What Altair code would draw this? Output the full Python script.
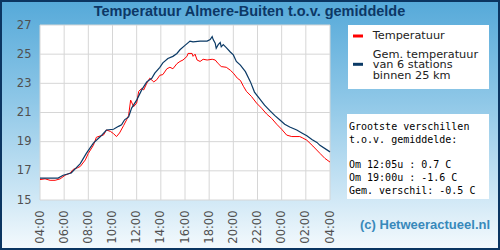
import altair as alt
import pandas as pd

# ---------------- data ----------------
red_times = ["04:00", "04:25", "04:50", "05:15", "05:40", "06:05", "06:30", "06:45", "07:05", "07:20",
             "07:45", "08:00", "08:25", "08:40", "09:00", "09:15", "09:30", "09:50", "10:05", "10:20",
             "10:35", "10:55", "11:10", "11:20", "11:30", "11:45", "12:00", "12:10", "12:25", "12:35",
             "12:50", "13:05", "13:25", "13:40", "13:55", "14:10", "14:30", "14:45", "15:00", "15:20",
             "15:35", "15:50", "16:10", "16:15", "16:35", "16:40", "16:50", "17:00", "17:15", "17:30",
             "17:50", "18:15", "18:30", "18:45", "19:00", "19:25", "19:45", "20:00", "20:20", "20:35",
             "20:50", "21:05", "21:30", "21:55", "22:20", "22:45", "23:10", "23:35", "00:00", "00:25",
             "00:50", "01:30", "01:45", "02:05", "02:35", "03:10", "03:35", "04:00"]
red_values = [16.4, 16.45, 16.35, 16.35, 16.45, 16.7, 16.85, 17.1, 17.2, 17.3,
              17.75, 18.2, 18.75, 19.3, 19.4, 19.45, 19.8, 19.7, 19.55, 19.35,
              19.6, 20.1, 20.5, 20.8, 21.85, 21.4, 21.65, 22.45, 22.65, 22.55,
              23.0, 23.35, 23.1, 23.25, 23.55, 23.6, 24.0, 24.1, 24.0, 24.35,
              24.5, 24.6, 24.85, 25.05, 25.05, 24.85, 25.0, 24.6, 24.5, 24.65,
              24.6, 24.65, 24.6, 24.35, 24.15, 24.1, 23.9, 23.7, 23.35, 23.2,
              22.8, 22.45, 22.1, 21.65, 21.3, 20.9, 20.6, 20.2, 19.85, 19.45,
              19.35, 19.35, 19.25, 19.1, 18.7, 18.2, 17.85, 17.6]

blue_times = ["04:00", "05:30", "05:55", "06:35", "07:20", "07:50", "08:25", "09:00", "09:30", "10:05",
              "10:30", "10:45", "11:00", "11:20", "11:35", "12:00", "12:25", "12:50", "13:15", "13:30",
              "13:55", "14:10", "14:35", "15:00", "15:20", "15:35", "16:00", "16:25", "16:40", "17:15",
              "17:50", "18:05", "18:15", "18:20", "18:30", "18:35", "18:45", "18:55", "19:00", "19:10",
              "19:25", "19:45", "20:00", "20:15", "20:35", "21:00", "21:25", "21:45", "22:10", "22:35",
              "23:00", "23:25", "23:50", "00:15", "00:40", "01:15", "01:40", "02:05", "02:30", "02:55",
              "03:10", "04:00"]
blue_values = [16.5, 16.5, 16.7, 16.85, 17.5, 18.2, 18.9, 19.35, 19.8, 19.85,
               20.05, 20.15, 20.5, 20.7, 21.3, 21.85, 22.55, 23.1, 23.35, 23.7,
               24.1, 24.4, 24.7, 24.85, 25.05, 25.3, 25.6, 25.9, 25.85, 25.9,
               25.9, 26.0, 26.2, 26.0, 25.75, 25.4, 25.65, 25.8, 25.5, 25.65,
               25.45, 25.15, 24.95, 24.5, 24.25, 23.8, 23.1, 22.4, 21.95, 21.5,
               21.15, 20.8, 20.5, 20.2, 20.0, 19.8, 19.6, 19.4, 19.15, 18.95,
               18.75, 18.3]

x_tick_times = ["04:00", "06:00", "08:00", "10:00", "12:00", "14:00", "16:00",
                "18:00", "20:00", "22:00", "00:00", "02:00", "04:00"]
y_ticks = [15, 17, 19, 21, 23, 25, 27]

title_text = "Temperatuur Almere-Buiten t.o.v. gemiddelde"
legend_red = "Temperatuur"
legend_blue = ["Gem. temperatuur", "van 6 stations", "binnen 25 km"]
info_lines = ["Grootste verschillen", "t.o.v. gemiddelde:", "",
              "Om 12:05u : 0.7 C", "Om 19:00u : -1.6 C", "Gem. verschil: -0.5 C"]
footer_text = "(c) Hetweeractueel.nl"


def to_stamps(times):
    out, day, prev = [], 10, None
    for t in times:
        h, m = map(int, t.split(":"))
        mins = h * 60 + m
        if prev is not None and mins < prev:
            day = 11
        prev = mins
        out.append(f"2024-07-{day:02d}T{t}:00")
    return out


red_df = pd.DataFrame({"t": to_stamps(red_times), "v": red_values})
blue_df = pd.DataFrame({"t": to_stamps(blue_times), "v": blue_values})
xt_df = pd.DataFrame({"t": to_stamps(x_tick_times)})
yt_df = pd.DataFrame({"v": y_ticks})
one = pd.DataFrame({"a": [0]})

W, H = 290, 175
LABEL_GRAY = "#505050"

x_tick_values = [alt.DateTime(year=2024, month=7, date=int(s[8:10]), hours=int(s[11:13]), minutes=0)
                 for s in xt_df["t"]]

x_scale = alt.Scale(domain=[alt.DateTime(year=2024, month=7, date=10, hours=4),
                            alt.DateTime(year=2024, month=7, date=11, hours=4)])
x_axis = alt.Axis(values=x_tick_values, format="%H:%M", labelAngle=270,
                  grid=False, ticks=False, domain=False, labelPadding=10,
                  labelFontSize=11.5, labelColor=LABEL_GRAY, labelFont="DejaVu Sans",
                  labelFlush=False, labelOverlap=False, title=None, zindex=1)
y_scale = alt.Scale(domain=[15, 27], nice=False, zero=False)
y_axis = alt.Axis(values=y_ticks, grid=False, ticks=False, domain=False,
                  labelPadding=9, labelFontSize=11.5, labelColor=LABEL_GRAY,
                  labelFont="DejaVu Sans", labelOverlap=False, title=None, zindex=1)


def xe():
    return alt.X("t:T", scale=x_scale, axis=x_axis)


def ye():
    return alt.Y("v:Q", scale=y_scale, axis=y_axis)


bg = alt.Chart(one).mark_rect(
    color=alt.LinearGradient(gradient="linear", x1=0, x2=0, y1=0, y2=1,
                             stops=[alt.GradientStop(color="#55a9d9", offset=0),
                                    alt.GradientStop(color="#8ec7e7", offset=0.4),
                                    alt.GradientStop(color="#c8e4f4", offset=0.75),
                                    alt.GradientStop(color="#f5fafd", offset=1)])
).encode(x=alt.value(-40), x2=alt.value(460), y=alt.value(-25), y2=alt.value(225))

frame = alt.Chart(one).mark_rect(fillOpacity=0, stroke="#0b3561", strokeWidth=2).encode(
    x=alt.value(-39), x2=alt.value(459), y=alt.value(-24), y2=alt.value(224))

plot_bg = alt.Chart(one).mark_rect(color="white").encode(
    x=alt.value(0), x2=alt.value(W), y=alt.value(0), y2=alt.value(H))

vgrid = alt.Chart(xt_df).mark_rule(color="#d6d6d6", strokeWidth=1).encode(x=xe())
hgrid = alt.Chart(yt_df).mark_rule(color="#d6d6d6", strokeWidth=1).encode(y=ye())

red_line = alt.Chart(red_df).mark_line(color="#ff0000", strokeWidth=1).encode(x=xe(), y=ye())
blue_line = alt.Chart(blue_df).mark_line(color="#0b3a66", strokeWidth=1.2).encode(x=xe(), y=ye())


def txt(text, x, y, **kw):
    return alt.Chart(one).mark_text(text=text, **kw).encode(x=alt.value(x), y=alt.value(y))


layers = [bg, frame, plot_bg, vgrid, hgrid, red_line, blue_line]

layers.append(txt(title_text, 209.5, -9.5, font="Liberation Sans", fontSize=14.5,
                  fontWeight="bold", color="#0c3766", align="center", baseline="alphabetic"))

# legend box
layers.append(alt.Chart(one).mark_rect(color="white").encode(
    x=alt.value(308), x2=alt.value(449), y=alt.value(0), y2=alt.value(64)))
layers.append(alt.Chart(one).mark_rule(color="#ff0000", strokeWidth=3).encode(
    x=alt.value(313), x2=alt.value(323), y=alt.value(11)))
layers.append(alt.Chart(one).mark_rule(color="#0b3a66", strokeWidth=3).encode(
    x=alt.value(313), x2=alt.value(323), y=alt.value(39.3)))
layers.append(txt(legend_red, 332.7, 13.5, font="DejaVu Sans", fontSize=11.3,
                  color="#222222", align="left", baseline="alphabetic"))
for i, line in enumerate(legend_blue):
    layers.append(txt(line, 332.7, 32.7 + 10.7 * i, font="DejaVu Sans", fontSize=11.3,
                      color="#222222", align="left", baseline="alphabetic"))

# info box
layers.append(alt.Chart(one).mark_rect(color="white").encode(
    x=alt.value(307), x2=alt.value(449), y=alt.value(89), y2=alt.value(174)))
for i, line in enumerate(info_lines):
    if line:
        layers.append(txt(line, 309, 105 + 12.8 * i, font="DejaVu Sans Mono", fontSize=10,
                          color="#000000", align="left", baseline="alphabetic"))

layers.append(txt(footer_text, 320, 204, font="Liberation Sans", fontSize=13,
                  fontWeight="bold", color="#3889bb", align="left", baseline="alphabetic"))

chart = alt.layer(*layers).properties(
    width=W, height=H,
    padding={"left": 40, "top": 25, "right": 170, "bottom": 50},
    autosize=alt.AutoSizeParams(type="none"),
).configure_view(strokeWidth=0)

chart.save("out.html", embed_options={"renderer": "svg", "actions": False})
